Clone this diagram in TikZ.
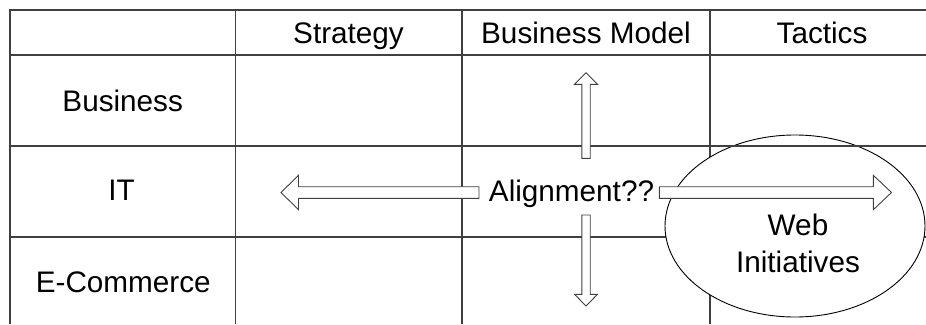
\documentclass[tikz,border=0pt]{standalone}
\usepackage{fontspec}
\setmainfont{Liberation Sans}
\usetikzlibrary{shapes.geometric,calc}
\newcommand\blockarrow[5]{% #1 start, #2 tip, #3 shaft half width, #4 head half width, #5 head length
  \coordinate (#2-hb) at ($(#2)!#5!(#1)$);
  \draw[arrowbox] ($(#1)!#3!90:(#2)$) -- ($(#2-hb)!#3!90:(#2)$) -- ($(#2-hb)!#4!90:(#2)$) -- (#2)
    -- ($(#2-hb)!#4!-90:(#2)$) -- ($(#2-hb)!#3!-90:(#2)$) -- ($(#1)!#3!-90:(#2)$) -- cycle;}
\begin{document}
\begin{tikzpicture}[x=1pt,y=-1pt,
  grid/.style={draw=black!75, line width=1.2pt},
  lbl/.style={font=\fontsize{29.7}{34}\selectfont, inner sep=0pt, anchor=base},
  arrowbox/.style={draw=black!75, line width=0.9pt, fill=white, line join=miter},
  webshape/.style={ellipse, draw=black, line width=0.9pt, fill=white, inner sep=0pt,
                   minimum width=260pt, minimum height=182pt}]
\useasboundingbox (0,0) rectangle (926,324);
% grid
\draw[grid] (10,324) -- (10,10) -- (926,10);
\draw[grid] (10,55) -- (926,55);
\draw[grid] (10,237) -- (926,237);
\draw[grid] (235.5,10) -- (235.5,324);
\draw[grid] (462,10) -- (462,324);
\draw[grid] (710,10) -- (710,324);
% ellipse
\node[webshape] (web) at (795,226) {};
\draw[grid] (10,146) -- (926,146);
% arrow end points
\coordinate (Us) at (586,158.3);
\coordinate (Ut) at (586,72.7);
\coordinate (Ds) at (586,215);
\coordinate (Dt) at (586,306);
\coordinate (Ls) at (479,192.5);
\coordinate (Lt) at (281,192.5);
\coordinate (Rs) at (659.3,192.5);
\coordinate (Rt) at (891.5,192.5);
\blockarrow{Us}{Ut}{4.2pt}{11.5pt}{11.6pt}
\blockarrow{Ds}{Dt}{4.2pt}{11.5pt}{11.7pt}
\blockarrow{Ls}{Lt}{5.8pt}{17.2pt}{17.5pt}
\blockarrow{Rs}{Rt}{5.8pt}{17.2pt}{18.2pt}
% texts
\node[lbl] (hStrategy) at (348.5,43.3) {Strategy};
\node[lbl] (hModel) at (586,43.3) {Business Model};
\node[lbl] (hTactics) at (822,43.3) {Tactics};
\node[lbl] (rBusiness) at (122.7,111.7) {Business};
\node[lbl] (rIT) at (121.5,200.3) {IT};
\node[lbl] (rEC) at (123.3,292) {E-Commerce};
\node[lbl] (align) at (571.5,201) {Alignment??};
\node[lbl] (web1) at (798,235) {Web};
\node[lbl] (web2) at (798,272) {Initiatives};
\end{tikzpicture}
\end{document}
